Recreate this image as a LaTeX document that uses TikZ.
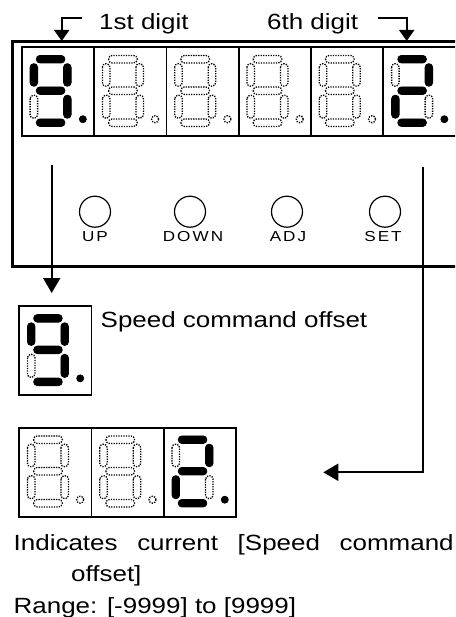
\documentclass[tikz,border=0pt]{standalone}
\usepackage{fontspec}
\setmainfont[FakeStretch=1.18]{Liberation Sans}
\newfontfamily\btnfont[FakeStretch=1.18,LetterSpace=14]{Liberation Sans}
\usetikzlibrary{arrows.meta,positioning}

\tikzset{
  seg1/.style={fill=black,draw=black,line width=0.8pt,rounded corners=3.5pt},
  seg0/.style={draw=black,dash pattern=on 1.3pt off 1.2pt,line width=1.3pt,rounded corners=3.5pt},
  cell/.style={draw,line width=1.8pt,minimum width=72.3pt,minimum height=89pt,inner sep=0pt,outer sep=0pt},
  btn/.style={draw,circle,line width=1.2pt,minimum size=31pt,inner sep=0pt},
  btntext/.style={font=\btnfont\fontsize{14.5}{16}\selectfont,anchor=base,inner sep=0pt},
  txt/.style={font=\fontsize{22}{26}\selectfont,anchor=base west,inner sep=0pt},
  arr/.style={line width=2pt,-{Triangle[width=17pt,length=15pt]}},
  arrsmall/.style={line width=2pt,-{Triangle[width=15pt,length=11pt]}}
}

%% seven segment digit: #1 cell node, #2 = a b c d e f g dp (1 = lit)
\newcommand{\sevenseg}[2]{%
  \begin{scope}[shift={(#1.north west)}]
    \drawsegs#2\relax
  \end{scope}}
\def\drawsegs#1#2#3#4#5#6#7#8\relax{%
  \path[seg#1] (14.5,8.25)  rectangle (43,15.75);
  \path[seg#2] (41.75,16.5) rectangle (49.25,39);
  \path[seg#3] (41.75,48)   rectangle (49.25,71);
  \path[seg#4] (14.5,71.75) rectangle (43,79.25);
  \path[seg#5] (8.25,48)    rectangle (15.75,71);
  \path[seg#6] (8.25,16.5)  rectangle (15.75,39);
  \path[seg#7] (14.5,39.75) rectangle (43,47.25);
  \path[seg#8] (61,72) circle (3.5);}

\begin{document}
\begin{tikzpicture}[x=1pt,y=-1pt]
  \useasboundingbox (0,0) rectangle (455,617);
  \clip (0,0) rectangle (455,617);
  %% Operation panel
  \draw[line width=3pt] (12.7,41.7) rectangle (480,266.7);
  %% Display cells
  \node[cell] (cell1) at (58,91.7)    {};
  \node[cell] (cell2) at (130.3,91.7) {};
  \node[cell] (cell3) at (202.6,91.7) {};
  \node[cell] (cell4) at (274.9,91.7) {};
  \node[cell] (cell5) at (347.2,91.7) {};
  \node[cell] (cell6) at (419.5,91.7) {};
  \sevenseg{cell1}{11110111}
  \sevenseg{cell2}{00000000}
  \sevenseg{cell3}{00000000}
  \sevenseg{cell4}{00000000}
  \sevenseg{cell5}{00000000}
  \sevenseg{cell6}{11011011}
  %% Digit labels
  \node[txt] (lbl1) at (99,30)  {1st digit};
  \node[txt] (lbl6) at (267,30) {6th digit};
  \coordinate (c1a) at (82,18.5);
  \coordinate (c1b) at (61.7,41);
  \coordinate (c6a) at (377.7,18.5);
  \coordinate (c6b) at (406.7,41);
  \draw[arrsmall] (c1a) -| (c1b);
  \draw[arrsmall] (c6a) -| (c6b);
  %% Buttons
  \node[btn] (btnup)   at (95,211.7)  {};
  \node[btn] (btndown) at (190,211.7) {};
  \node[btn] (btnadj)  at (287,211.7) {};
  \node[btn] (btnset)  at (385,211.7) {};
  \node[btntext] (tup)   at (95,241.7)  {UP};
  \node[btntext] (tdown) at (193,241.7) {DOWN};
  \node[btntext] (tadj)  at (288,241.7) {ADJ};
  \node[btntext] (tset)  at (383,241.7) {SET};
  %% 1st digit: sign
  \node[cell] (single) at (55.35,350.85) {};
  \sevenseg{single}{11110111}
  \node[txt] (offs) at (100.5,327) {Speed command offset};
  \coordinate (ldn)  at (51.7,165);
  \coordinate (ltip) at (51.7,293);
  \draw[arr] (ldn) -- (ltip);
  %% lower digits: value
  \node[cell] (low1) at (55.35,472.2)  {};
  \node[cell] (low2) at (127.65,472.2) {};
  \node[cell] (low3) at (199.95,472.2) {};
  \sevenseg{low1}{00000000}
  \sevenseg{low2}{00000000}
  \sevenseg{low3}{11011011}
  \coordinate (rdn)  at (422.5,166.7);
  \coordinate (rtip) at (323.3,472.3);
  \draw[arr] (rdn) |- (rtip);
  %% Description
  \node[txt] (desc1) at (13.5,550)   {\makebox[440pt][s]{Indicates current [Speed command}};
  \node[txt] (desc2) at (71,581.5)   {offset]};
  \node[txt] (range) at (13.5,613)   {Range: [-9999] to [9999]};
\end{tikzpicture}
\end{document}
